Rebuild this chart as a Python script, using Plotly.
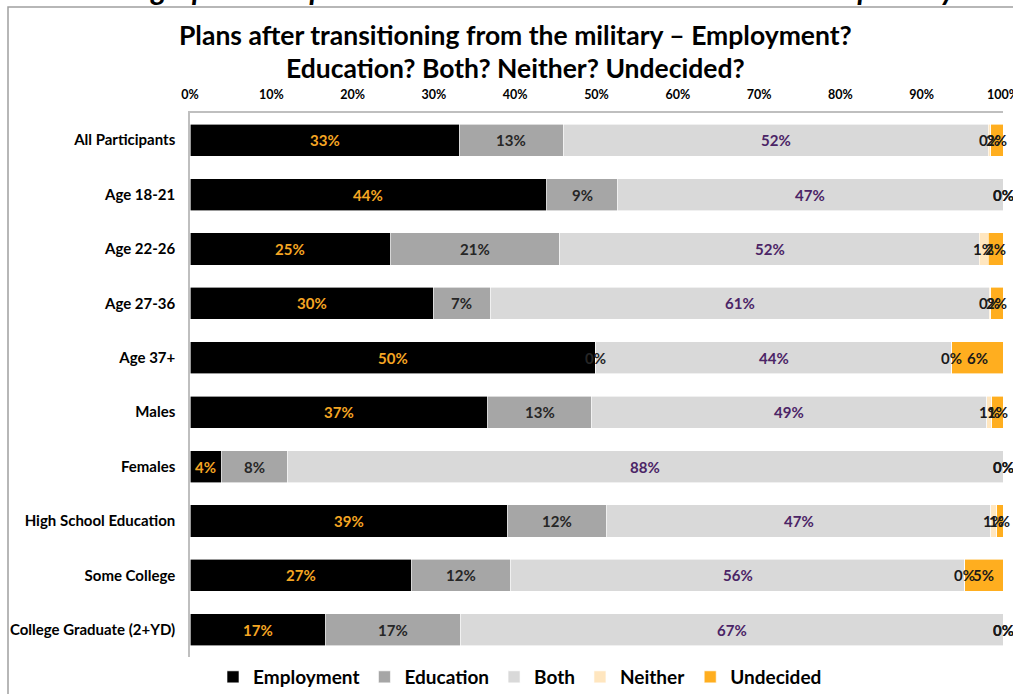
import plotly.graph_objects as go

# Survey groups (top to bottom)
groups = [
    "All Participants", "Age 18-21", "Age 22-26", "Age 27-36", "Age 37+",
    "Males", "Females", "High School Education", "Some College",
    "College Graduate (2+YD)",
]

# Share of respondents (%) by post-military plan
employment = [33.1, 43.9, 24.7, 29.9, 49.9, 36.6, 3.9, 39.0, 27.3, 16.7]
education = [12.8, 8.7, 20.8, 7.0, 0.0, 12.8, 8.1, 12.2, 12.1, 16.6]
both = [52.3, 47.4, 51.6, 61.4, 43.8, 48.6, 88.0, 47.3, 55.9, 66.7]
neither = [0.3, 0.0, 1.1, 0.2, 0.0, 0.6, 0.0, 0.7, 0.0, 0.0]
undecided = [1.5, 0.0, 1.8, 1.5, 6.3, 1.4, 0.0, 0.8, 4.7, 0.0]

tick_vals = [0, 10, 20, 30, 40, 50, 60, 70, 80, 90, 100]
tick_text = [f"{v}%" for v in tick_vals]

series = [
    ("Employment", employment, "#000000", "#F5A623"),
    ("Education", education, "#A6A6A6", "#262626"),
    ("Both", both, "#D9D9D9", "#4B2466"),
    ("Neither", neither, "#FFE6BF", "#1A1A1A"),
    ("Undecided", undecided, "#FFAE1F", "#1A1A1A"),
]

FONT = "Lato"
W, H = 1013, 694
PL, PR, PT, PB = 190, 1003, 113, 657  # plot area edges in pixels


def px_x(x):
    return (x - PL) / (PR - PL)


def px_y(y):
    return (PB - y) / (PB - PT)


fig = go.Figure()
annotations = []
base = [0.0] * len(groups)
for name, vals, color, label_color in series:
    fig.add_trace(go.Bar(
        name=name, y=groups, x=vals, orientation="h",
        marker=dict(color=color, line=dict(color="white", width=0.6)),
        hoverinfo="x+y+name",
    ))
    for g, b, v in zip(groups, base, vals):
        annotations.append(dict(
            x=b + v / 2, y=g, xref="x", yref="y",
            text=f"{v:.0f}%", showarrow=False,
            font=dict(family=FONT, size=15, color=label_color, weight="bold"),
        ))
    base = [b + v for b, v in zip(base, vals)]

# Chart titles
annotations += [
    dict(text="Demographic Comparisons – Cross-Tabulations Illustrated Graphically",
         x=px_x(516), xref="paper", y=px_y(-12), yref="paper", yanchor="middle",
         xanchor="center", showarrow=False,
         font=dict(family=FONT, size=30, color="black", weight="bold", style="italic")),
    dict(text="Plans after transitioning from the military – Employment?",
         x=px_x(515), xref="paper", y=px_y(35), yref="paper", yanchor="middle",
         showarrow=False,
         font=dict(family=FONT, size=26.5, color="black", weight="bold")),
    dict(text="Education? Both? Neither? Undecided?",
         x=px_x(515), xref="paper", y=px_y(68), yref="paper", yanchor="middle",
         showarrow=False,
         font=dict(family=FONT, size=26.5, color="black", weight="bold")),
]

fig.update_layout(
    barmode="stack",
    bargap=0.41,
    width=W, height=H,
    margin=dict(l=PL, r=W - PR, t=PT, b=H - PB, autoexpand=False),
    paper_bgcolor="white", plot_bgcolor="white",
    font=dict(family=FONT, color="black"),
    showlegend=True,
    legend=dict(
        orientation="h", x=px_x(520), xanchor="center", y=px_y(677), yanchor="middle",
        font=dict(family=FONT, size=19, color="black", weight="bold"),
        traceorder="normal", itemwidth=30,
    ),
    xaxis=dict(
        side="top", range=[0, 100], tickmode="array", tickvals=tick_vals,
        ticktext=tick_text, automargin=False, ticklabeloverflow="allow",
        showgrid=False, zeroline=False, showline=True, linecolor="#BFBFBF",
        linewidth=1.5, ticks="", ticklabelstandoff=7,
        tickfont=dict(family=FONT, size=12.5, color="black", weight="bold"),
    ),
    yaxis=dict(
        autorange="reversed", showgrid=False, zeroline=False, showline=True,
        automargin=False,
        linecolor="#BFBFBF", linewidth=1.5, ticks="", ticklabelstandoff=10,
        tickfont=dict(family=FONT, size=15, color="black", weight="bold"),
    ),
    annotations=annotations,
    shapes=[
        # outer frame around the chart
        dict(type="rect", xref="paper", yref="paper",
             x0=px_x(8), x1=px_x(1030), y0=px_y(720), y1=px_y(7),
             line=dict(color="#A0A0A0", width=1.5), layer="below"),
    ],
)

fig.write_html("out.html")
